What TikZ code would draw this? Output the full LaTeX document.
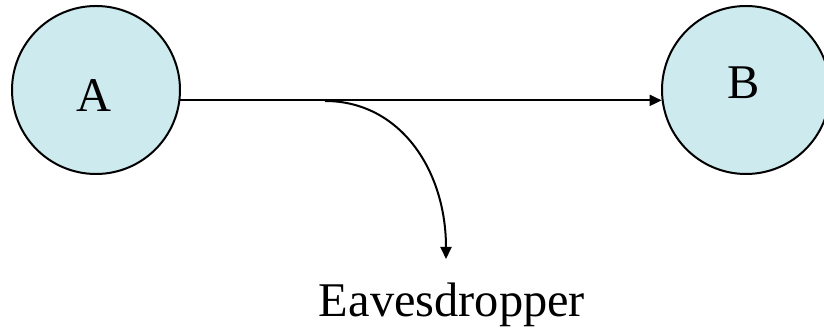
\documentclass[tikz,border=0pt]{standalone}
\usepackage{fontspec}
\setmainfont{Liberation Serif}
\usetikzlibrary{calc,arrows.meta}
\definecolor{partyblue}{RGB}{205,234,238}

\begin{document}
\begin{tikzpicture}[x=0.5pt, y=-0.5pt,
  every node/.style={font=\fontsize{24.2}{28}\selectfont},
  party/.style={circle, draw=black, line width=1pt, fill=partyblue, minimum size=84pt, inner sep=0},
  lbl/.style={anchor=base, inner sep=0},
  arr/.style={line width=1pt, -{Triangle[length=6pt, width=5.5pt]}}]

  \useasboundingbox (0,0) rectangle (824,335);

  \node[party] at (96,90) (A) {};
  \node[party] at (746,90) (B) {};
  \node[lbl] at (94,112) (Atxt) {A};
  \node[lbl] at (744,99) (Btxt) {B};
  \node[lbl] at (452,317) (eve) {Eavesdropper};

  \coordinate (tap) at (325,101);
  \coordinate (drop) at (446,259);

  \draw[arr] (A.-7.5) -- (B.187.5);
  \draw[arr] (tap) .. controls (400,101) and (446,170) .. (drop);

\end{tikzpicture}
\end{document}
